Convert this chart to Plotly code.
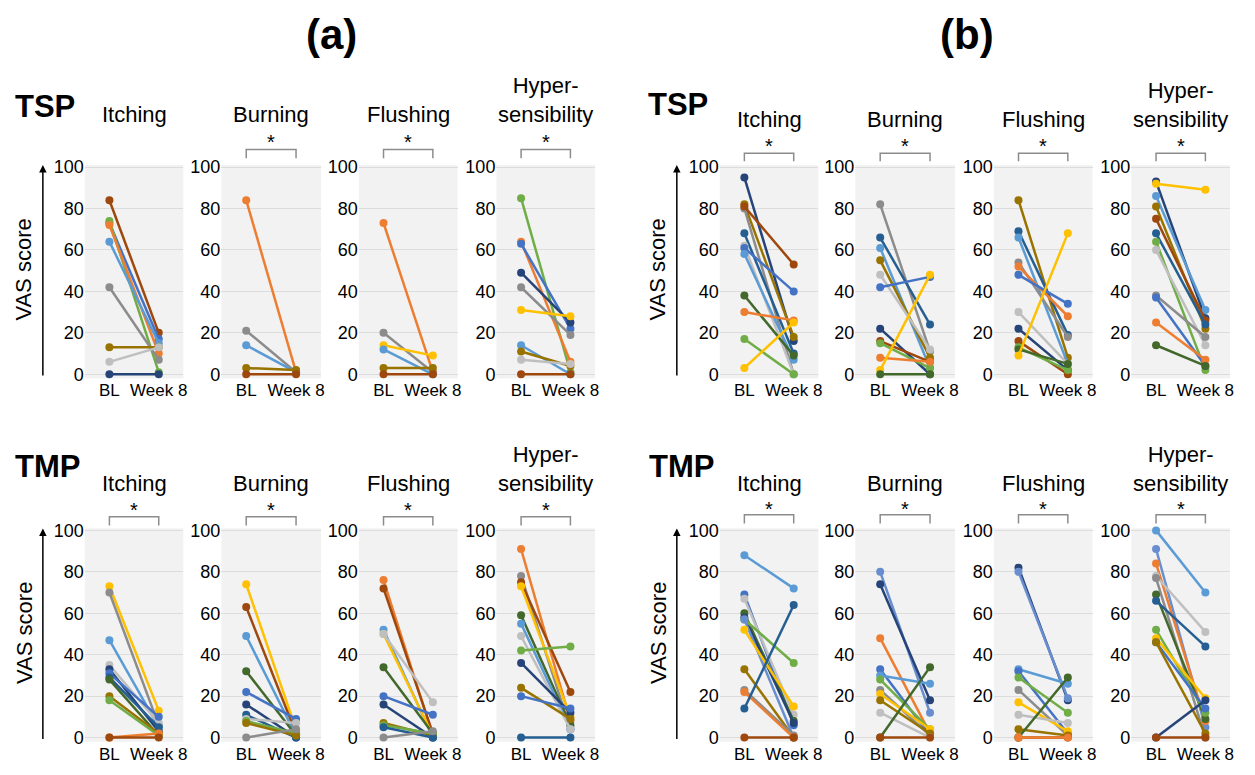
import plotly.graph_objects as go

W, H = 1255, 775
FONT = "Arial, Liberation Sans, sans-serif"

TIMEPOINTS = ["BL", "Week 8"]
Y_TICKS = [0, 20, 40, 60, 80, 100]
SYMPTOMS = ["Itching", "Burning", "Flushing", "Hyper-<br>sensibility"]
GROUPS = ["(a)", "(b)"]
ROWS = ["TSP", "TMP"]

COLORS = {
    "blue": "#4472C4", "orange": "#ED7D31", "gray": "#8C8C8C", "ltgray": "#BFBFBF",
    "yellow": "#FFC000", "ltblue": "#5B9BD5", "green": "#70AD47", "navy": "#264478",
    "brown": "#9E480E", "gold": "#997300", "steel": "#255E91", "dkgreen": "#43682B",
    "cornflower": "#698ED0",
}

# ---------------- (a) TSP ----------------
A_TSP_ITCHING_IDS = ["brown", "blue", "green", "orange", "ltblue", "gray", "gold", "ltgray", "navy"]
A_TSP_ITCHING_BL = [84, 73, 74, 72, 64, 42, 13, 6, 0]
A_TSP_ITCHING_W8 = [20, 17, 1, 10, 15, 7, 13, 13, 0]

A_TSP_BURNING_IDS = ["orange", "gray", "ltblue", "gold", "brown"]
A_TSP_BURNING_BL = [84, 21, 14, 3, 0]
A_TSP_BURNING_W8 = [1, 1, 1, 2, 0]

A_TSP_FLUSHING_IDS = ["orange", "gray", "yellow", "ltblue", "gold", "brown"]
A_TSP_FLUSHING_BL = [73, 20, 14, 12, 3, 0]
A_TSP_FLUSHING_W8 = [1, 1, 9, 0, 3, 0]

A_TSP_HYPER_IDS = ["green", "orange", "blue", "navy", "gray", "yellow", "ltblue", "gold", "ltgray", "brown"]
A_TSP_HYPER_BL = [85, 64, 63, 49, 42, 31, 14, 11, 7, 0]
A_TSP_HYPER_W8 = [1, 6, 22, 25, 19, 28, 0, 4, 5, 0]

# ---------------- (b) TSP ----------------
B_TSP_ITCHING_IDS = ["navy", "gold", "gray", "brown", "steel", "ltgray", "blue", "ltblue", "dkgreen", "orange", "green", "yellow"]
B_TSP_ITCHING_BL = [95, 82, 80, 81, 68, 62, 61, 58, 38, 30, 17, 3]
B_TSP_ITCHING_W8 = [16, 18, 0, 53, 10, 0, 40, 7, 9, 26, 0, 25]

B_TSP_BURNING_IDS = ["gray", "steel", "ltblue", "gold", "ltgray", "blue", "navy", "brown", "green", "orange", "yellow", "dkgreen"]
B_TSP_BURNING_BL = [82, 66, 61, 55, 48, 42, 22, 16, 15, 8, 2, 0]
B_TSP_BURNING_W8 = [11, 24, 3, 8, 12, 47, 0, 6, 3, 6, 48, 0]

B_TSP_FLUSHING_IDS = ["gold", "steel", "ltblue", "gray", "orange", "blue", "ltgray", "navy", "brown", "green", "dkgreen", "yellow"]
B_TSP_FLUSHING_BL = [84, 69, 66, 54, 52, 48, 30, 22, 16, 13, 12, 9]
B_TSP_FLUSHING_W8 = [8, 19, 5, 18, 28, 34, 5, 2, 0, 2, 5, 68]

B_TSP_HYPER_IDS = ["navy", "yellow", "ltblue", "gold", "brown", "steel", "green", "ltgray", "gray", "blue", "orange", "dkgreen"]
B_TSP_HYPER_BL = [93, 92, 86, 81, 75, 68, 64, 60, 38, 37, 25, 14]
B_TSP_HYPER_W8 = [27, 89, 31, 22, 26, 24, 2, 14, 18, 4, 7, 4]

# ---------------- (a) TMP ----------------
A_TMP_ITCHING_IDS = ["yellow", "gray", "ltblue", "ltgray", "navy", "blue", "steel", "dkgreen", "gold", "green", "orange", "brown"]
A_TMP_ITCHING_BL = [73, 70, 47, 35, 33, 31, 29, 28, 20, 18, 0, 0]
A_TMP_ITCHING_W8 = [13, 6, 5, 7, 3, 10, 5, 1, 2, 1, 2, 0]

A_TMP_BURNING_IDS = ["yellow", "brown", "ltblue", "dkgreen", "blue", "navy", "steel", "ltgray", "green", "gold", "gray"]
A_TMP_BURNING_BL = [74, 63, 49, 32, 22, 16, 11, 9, 8, 7, 0]
A_TMP_BURNING_W8 = [4, 2, 1, 1, 9, 0, 0, 7, 2, 1, 4]

A_TMP_FLUSHING_IDS = ["orange", "brown", "ltblue", "yellow", "ltgray", "dkgreen", "blue", "navy", "gold", "green", "steel", "gray"]
A_TMP_FLUSHING_BL = [76, 72, 52, 50, 50, 34, 20, 16, 7, 6, 5, 0]
A_TMP_FLUSHING_W8 = [1, 2, 0, 1, 17, 2, 11, 0, 1, 2, 0, 3]

A_TMP_HYPER_IDS = ["orange", "gray", "brown", "yellow", "dkgreen", "ltblue", "ltgray", "green", "navy", "gold", "blue", "steel"]
A_TMP_HYPER_BL = [91, 78, 75, 73, 59, 55, 49, 42, 36, 24, 20, 0]
A_TMP_HYPER_W8 = [8, 4, 22, 10, 6, 4, 4, 44, 12, 9, 14, 0]

# ---------------- (b) TMP ----------------
B_TMP_ITCHING_IDS = ["ltblue", "blue", "ltgray", "dkgreen", "navy", "green", "cornflower", "yellow", "gold", "gray", "orange", "steel", "brown"]
B_TMP_ITCHING_BL = [88, 69, 67, 60, 58, 57, 57, 52, 33, 23, 22, 14, 0]
B_TMP_ITCHING_W8 = [72, 6, 11, 8, 7, 36, 0, 15, 0, 1, 0, 64, 0]

B_TMP_BURNING_IDS = ["cornflower", "navy", "orange", "blue", "ltblue", "green", "gray", "yellow", "gold", "ltgray", "dkgreen", "brown"]
B_TMP_BURNING_BL = [80, 74, 48, 33, 30, 28, 23, 21, 18, 12, 0, 0]
B_TMP_BURNING_W8 = [12, 18, 2, 1, 26, 4, 1, 4, 2, 0, 34, 0]

B_TMP_FLUSHING_IDS = ["navy", "cornflower", "ltblue", "blue", "green", "gray", "yellow", "ltgray", "gold", "dkgreen", "brown", "orange"]
B_TMP_FLUSHING_BL = [82, 80, 33, 32, 29, 23, 17, 11, 4, 0, 0, 0]
B_TMP_FLUSHING_W8 = [18, 19, 26, 2, 12, 1, 3, 7, 1, 29, 0, 0]

B_TMP_HYPER_IDS = ["ltblue", "cornflower", "orange", "ltgray", "gray", "dkgreen", "steel", "green", "yellow", "blue", "gold", "navy", "brown"]
B_TMP_HYPER_BL = [100, 91, 84, 78, 77, 69, 66, 52, 48, 46, 46, 0, 0]
B_TMP_HYPER_W8 = [70, 5, 8, 51, 0, 9, 44, 12, 19, 14, 2, 18, 0]

SIGNIFICANT = {
    ("(a)", "TSP"): [False, True, True, True],
    ("(a)", "TMP"): [True, True, True, True],
    ("(b)", "TSP"): [True, True, True, True],
    ("(b)", "TMP"): [True, True, True, True],
}

PANEL_DATA = {
    ("(a)", "TSP"): [(A_TSP_ITCHING_IDS, A_TSP_ITCHING_BL, A_TSP_ITCHING_W8),
                     (A_TSP_BURNING_IDS, A_TSP_BURNING_BL, A_TSP_BURNING_W8),
                     (A_TSP_FLUSHING_IDS, A_TSP_FLUSHING_BL, A_TSP_FLUSHING_W8),
                     (A_TSP_HYPER_IDS, A_TSP_HYPER_BL, A_TSP_HYPER_W8)],
    ("(b)", "TSP"): [(B_TSP_ITCHING_IDS, B_TSP_ITCHING_BL, B_TSP_ITCHING_W8),
                     (B_TSP_BURNING_IDS, B_TSP_BURNING_BL, B_TSP_BURNING_W8),
                     (B_TSP_FLUSHING_IDS, B_TSP_FLUSHING_BL, B_TSP_FLUSHING_W8),
                     (B_TSP_HYPER_IDS, B_TSP_HYPER_BL, B_TSP_HYPER_W8)],
    ("(a)", "TMP"): [(A_TMP_ITCHING_IDS, A_TMP_ITCHING_BL, A_TMP_ITCHING_W8),
                     (A_TMP_BURNING_IDS, A_TMP_BURNING_BL, A_TMP_BURNING_W8),
                     (A_TMP_FLUSHING_IDS, A_TMP_FLUSHING_BL, A_TMP_FLUSHING_W8),
                     (A_TMP_HYPER_IDS, A_TMP_HYPER_BL, A_TMP_HYPER_W8)],
    ("(b)", "TMP"): [(B_TMP_ITCHING_IDS, B_TMP_ITCHING_BL, B_TMP_ITCHING_W8),
                     (B_TMP_BURNING_IDS, B_TMP_BURNING_BL, B_TMP_BURNING_W8),
                     (B_TMP_FLUSHING_IDS, B_TMP_FLUSHING_BL, B_TMP_FLUSHING_W8),
                     (B_TMP_HYPER_IDS, B_TMP_HYPER_BL, B_TMP_HYPER_W8)],
}

# ---------------- layout geometry (pixels) ----------------
PANEL_X = {
    "(a)": [(85, 184), (222, 322), (360, 459), (498, 597)],
    "(b)": [(722, 821), (858, 958), (997, 1096), (1135, 1234)],
}
Y_RANGE = [-2, 101]
ROW_Y = {"TSP": (162, 373), "TMP": (532, 743)}  # pixel of 100 and of 0
TITLE_Y = {("(a)", "TSP"): 115, ("(b)", "TSP"): 120, ("(a)", "TMP"): 491, ("(b)", "TMP"): 491}
STAR_Y = {("(a)", "TSP"): 137, ("(b)", "TSP"): 142, ("(a)", "TMP"): 512, ("(b)", "TMP"): 511}
BRACKET_Y = {("(a)", "TSP"): (144, 153), ("(b)", "TSP"): (148, 156),
             ("(a)", "TMP"): (518, 527), ("(b)", "TMP"): (516, 525)}
GROUP_LABEL_X = {"(a)": 333, "(b)": 970}
GROUP_LABEL_Y = 27
ROW_LABEL_POS = {("(a)", "TSP"): (45, 100), ("(b)", "TSP"): (680, 98),
                 ("(a)", "TMP"): (48, 467), ("(b)", "TMP"): (684, 467)}
VAS_X = {"(a)": (24, 43), "(b)": (660, 679)}


def px(x):
    return x / W


def py(y):
    return 1 - y / H


fig = go.Figure()
layout = dict(
    width=W, height=H, margin=dict(l=0, r=0, t=0, b=0),
    paper_bgcolor="white", plot_bgcolor="#F2F2F2",
    font=dict(family=FONT, color="#000000"),
    showlegend=False,
)
annotations = []
shapes = []

k = 0
for g in GROUPS:
    for r in ROWS:
        y100, y0 = ROW_Y[r]
        scale = (y0 - y100) / 100.0
        ybot = y0 - (Y_RANGE[0]) * scale
        ytop = y0 - (Y_RANGE[1]) * scale
        for i, (ids, bl, w8) in enumerate(PANEL_DATA[(g, r)]):
            k += 1
            x0p, x1p = PANEL_X[g][i]
            xa, ya = f"x{k}", f"y{k}"
            for cid, b, w in zip(ids, bl, w8):
                c = COLORS[cid]
                fig.add_trace(go.Scatter(
                    x=TIMEPOINTS, y=[b, w], mode="lines+markers",
                    line=dict(color=c, width=2.5), marker=dict(color=c, size=8),
                    xaxis=xa, yaxis=ya, cliponaxis=False, hoverinfo="skip",
                ))
            sfx = "" if k == 1 else str(k)
            layout["xaxis" + sfx] = dict(
                domain=[px(x0p), px(x1p)], anchor=ya, type="category",
                categoryorder="array", categoryarray=TIMEPOINTS,
                range=[-0.5, 1.5], showgrid=False, zeroline=False, showline=False,
                ticks="", tickfont=dict(size=17, family=FONT, color="#000"),
                fixedrange=True,
            )
            layout["yaxis" + sfx] = dict(
                domain=[py(ybot), py(ytop)], anchor=xa, range=Y_RANGE,
                tickvals=Y_TICKS, showgrid=True, gridcolor="#DCDCDC", gridwidth=1,
                zeroline=False, showline=False, ticks="",
                tickfont=dict(size=18, family=FONT, color="#000"), fixedrange=True,
            )
            # panel title
            annotations.append(dict(
                text=SYMPTOMS[i], xref="paper", yref="paper",
                x=px((x0p + x1p) / 2), y=py(TITLE_Y[(g, r)] + 8),
                xanchor="center", yanchor="bottom", showarrow=False,
                font=dict(size=22, family=FONT, color="#000"),
            ))
            if SIGNIFICANT[(g, r)][i]:
                yt, yb = BRACKET_Y[(g, r)]
                shapes.append(dict(
                    type="path", xref=xa, yref="paper",
                    path=f"M 0,{py(yb)} L 0,{py(yt)} L 1,{py(yt)} L 1,{py(yb)}",
                    line=dict(color="#8C8C8C", width=1.5),
                ))
                annotations.append(dict(
                    text="*", xref=xa, yref="paper", x=0.5, y=py(STAR_Y[(g, r)] - 1),
                    xanchor="center", yanchor="middle", showarrow=False,
                    font=dict(size=20, family=FONT, color="#000"),
                ))
        # row label
        lx, ly = ROW_LABEL_POS[(g, r)]
        annotations.append(dict(
            text="<b>" + r + "</b>", xref="paper", yref="paper", x=px(lx), y=py(ly),
            xanchor="center", yanchor="middle", showarrow=False,
            font=dict(size=31, family=FONT, color="#000"),
        ))
        # VAS score + arrow
        tx, ax = VAS_X[g]
        annotations.append(dict(
            text="VAS score", xref="paper", yref="paper", x=px(tx), y=py((y100 + y0) / 2 - 1),
            xanchor="center", yanchor="middle", showarrow=False, textangle=-90,
            font=dict(size=22, family=FONT, color="#000"),
        ))
        annotations.append(dict(
            text="", xref="paper", yref="paper", x=px(ax), y=py(y100 - 2),
            ax=0, ay=(y0 - 1) - (y100 - 2), showarrow=True, arrowhead=2,
            arrowsize=1, arrowwidth=1.5, arrowcolor="#000",
        ))
    annotations.append(dict(
        text="<b>" + g + "</b>", xref="paper", yref="paper", x=px(GROUP_LABEL_X[g]),
        y=py(GROUP_LABEL_Y), xanchor="center", yanchor="middle", showarrow=False,
        font=dict(size=42, family=FONT, color="#000"),
    ))

layout["annotations"] = annotations
layout["shapes"] = shapes
fig.update_layout(**layout)
fig.write_html(
    "out.html",
    config={"displayModeBar": False},
    post_script="document.body.style.margin='0';document.body.style.overflow='hidden';",
)
